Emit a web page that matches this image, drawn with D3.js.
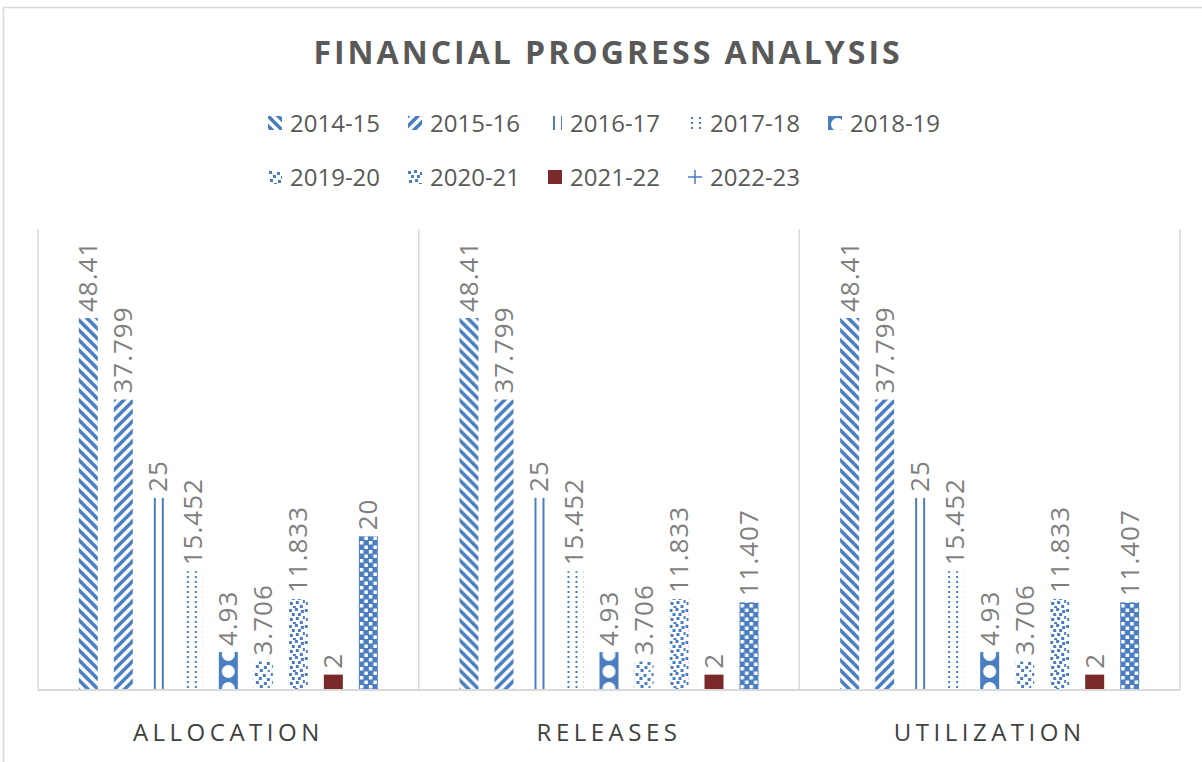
<!DOCTYPE html>
<html>
<head>
<meta charset="utf-8">
<script src="https://cdn.jsdelivr.net/npm/d3@7"></script>
<style>
  body { margin: 0; padding: 0; background: #fff; }
  text { font-family: 'Open Sans', 'Liberation Sans', sans-serif; }
</style>
</head>
<body>
<div id="main"></div>
<script>
const categories = ['ALLOCATION', 'RELEASES', 'UTILIZATION'];
const seriesNames = ['2014-15', '2015-16', '2016-17', '2017-18', '2018-19', '2019-20', '2020-21', '2021-22', '2022-23'];
const allocation = [48.41, 37.799, 25, 15.452, 4.93, 3.706, 11.833, 2, 20];
const releases = [48.41, 37.799, 25, 15.452, 4.93, 3.706, 11.833, 2, 11.407];
const utilization = [48.41, 37.799, 25, 15.452, 4.93, 3.706, 11.833, 2, 11.407];
const valuesByCategory = [allocation, releases, utilization];

const WIDTH = 1202, HEIGHT = 762;
const BLUE = '#4a7ec1', RED = '#7a2a2a', GRID = '#d9d9d9';
const PLOT = { left: 38, right: 1180, top: 229, bottom: 690 };

const svg = d3.select('#main').append('svg').attr('width', WIDTH).attr('height', HEIGHT);
const defs = svg.append('defs');

// fill patterns, anchored on each bar's left edge
const patternMakers = [
    (p) => { p.attr('width', 10).attr('height', 10);
        p.append('path').attr('d', 'M-2,-2 L12,12 M-2,8 L2,12 M8,-2 L12,2').attr('stroke', BLUE).attr('stroke-width', 3.6); },
    (p) => { p.attr('width', 10).attr('height', 10);
        p.append('path').attr('d', 'M-2,12 L12,-2 M-2,2 L2,-2 M8,12 L12,8').attr('stroke', BLUE).attr('stroke-width', 3.6); },
    (p) => { p.attr('width', 8).attr('height', 8);
        p.append('rect').attr('x', 5).attr('y', 0).attr('width', 2).attr('height', 8).attr('fill', BLUE); },
    (p) => { p.attr('width', 8).attr('height', 5);
        p.append('rect').attr('x', 3).attr('y', 1).attr('width', 2).attr('height', 2).attr('fill', BLUE); },
    (p) => { p.attr('width', 19).attr('height', 17);
        p.append('rect').attr('width', 19).attr('height', 17).attr('fill', BLUE);
        p.append('circle').attr('cx', 9.5).attr('cy', 8.5).attr('r', 6.5).attr('fill', '#fff'); },
    (p) => { p.attr('width', 16).attr('height', 16);
        [[1,1],[9,2],[5,5],[13,6],[2,9],[10,10],[6,13],[14,14]].forEach(([x, y]) =>
            p.append('rect').attr('x', x).attr('y', y).attr('width', 3).attr('height', 3).attr('fill', BLUE)); },
    (p) => { p.attr('width', 16).attr('height', 16);
        [[0,1],[6,0],[12,2],[3,5],[9,5],[14,8],[1,10],[7,9],[11,13],[4,14]].forEach(([x, y]) =>
            p.append('rect').attr('x', x).attr('y', y).attr('width', 3).attr('height', 3).attr('fill', BLUE)); },
    null,
    (p) => { p.attr('width', 9).attr('height', 9);
        p.append('rect').attr('width', 9).attr('height', 9).attr('fill', BLUE);
        p.append('rect').attr('x', 1).attr('y', 1).attr('width', 3.5).attr('height', 3.5).attr('fill', '#fff');
        p.append('rect').attr('x', 5.5).attr('y', 5.5).attr('width', 3.5).attr('height', 3.5).attr('fill', '#fff'); }
];
const fillFor = (i) => {
    if (!patternMakers[i]) return RED;
    return `url(#pat${i})`;
};
patternMakers.forEach((make, i) => {
    if (!make) return;
    const p = defs.append('pattern').attr('id', `pat${i}`).attr('patternUnits', 'userSpaceOnUse');
    make(p);
});

// chart area border
svg.append('rect').attr('x', 3.5).attr('y', 7.5).attr('width', 1300).attr('height', 900)
    .attr('fill', 'none').attr('stroke', GRID).attr('stroke-width', 1.5);

svg.append('text').attr('x', 608).attr('y', 64).attr('text-anchor', 'middle')
    .attr('font-size', 32).attr('font-weight', 'bold').attr('letter-spacing', 3)
    .attr('fill', '#595959').text('FINANCIAL PROGRESS ANALYSIS');

// legend
const legendRows = [seriesNames.slice(0, 5), seriesNames.slice(5)];
legendRows.forEach((row, r) => {
    row.forEach((name, j) => {
        const i = seriesNames.indexOf(name);
        const gx = 268 + j * 140, gy = 123 + r * 54;
        const item = svg.append('g').attr('transform', `translate(${gx},${gy - 7})`);
        if (i === 8) {
            item.append('path').attr('d', 'M7,0 V14 M0,7 H14').attr('stroke', BLUE).attr('stroke-width', 1.5);
        } else {
            item.append('rect').attr('width', 14).attr('height', 14).attr('fill', fillFor(i));
        }
        svg.append('text').attr('x', gx + 22).attr('y', gy + 9).attr('font-size', 24)
            .attr('fill', '#595959').text(name);
    });
});

const x0 = d3.scaleBand().domain(categories).range([PLOT.left, PLOT.right]).padding(0);
const x1 = d3.scaleBand().domain(seriesNames).range([0, x0.bandwidth()]).paddingInner(0.457).paddingOuter(1.166);
const y = d3.scaleLinear().domain([0, 60]).range([PLOT.bottom, PLOT.top]);

// category separators
const seps = categories.map((c) => x0(c)).concat([PLOT.right]);
svg.selectAll('line.sep').data(seps).enter().append('line').attr('class', 'sep')
    .attr('x1', (d) => d).attr('x2', (d) => d).attr('y1', PLOT.top).attr('y2', PLOT.bottom)
    .attr('stroke', GRID).attr('stroke-width', 1.5);

const groups = svg.selectAll('g.cat').data(categories).enter().append('g').attr('class', 'cat');
groups.each(function (cat, ci) {
    const g = d3.select(this);
    const vals = valuesByCategory[ci];
    vals.forEach((v, i) => {
        const bx = x0(cat) + x1(seriesNames[i]);
        const bar = g.append('g').attr('transform', `translate(${bx},0)`);
        bar.append('rect').attr('x', 0).attr('y', y(v)).attr('width', x1.bandwidth())
            .attr('height', y(0) - y(v)).attr('fill', fillFor(i));
        const cx = bx + x1.bandwidth() / 2 + 9, ty = y(v) - 6;
        g.append('text').attr('transform', `translate(${cx},${ty}) rotate(-90)`)
            .attr('font-size', 26).attr('fill', '#7f7f7f').attr('letter-spacing', 1).text(v);
    });
    g.append('text').attr('x', x0(cat) + x0.bandwidth() / 2).attr('y', 741).attr('text-anchor', 'middle')
        .attr('font-size', 24).attr('letter-spacing', 4.5).attr('fill', '#404040').text(cat);
});

svg.append('line').attr('x1', PLOT.left).attr('x2', PLOT.right).attr('y1', PLOT.bottom).attr('y2', PLOT.bottom)
    .attr('stroke', GRID).attr('stroke-width', 2);
</script>
</body>
</html>
